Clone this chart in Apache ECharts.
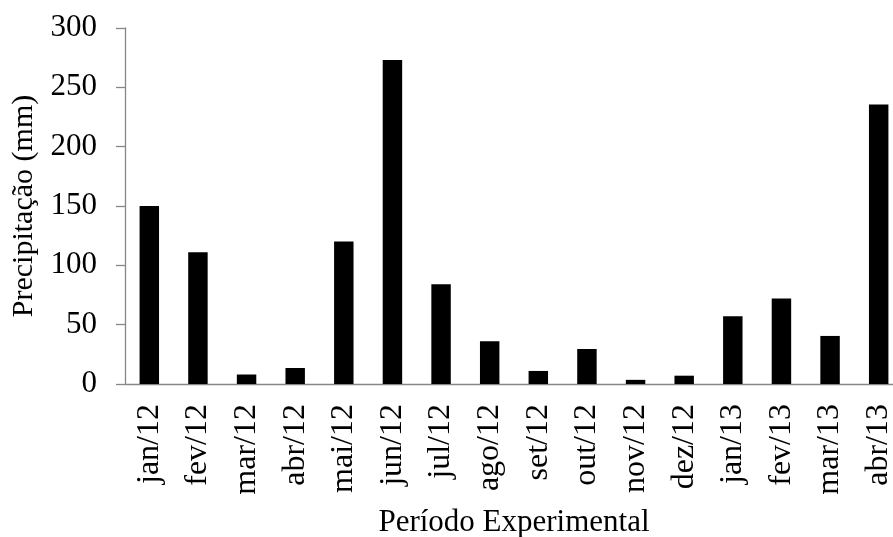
<!DOCTYPE html>
<html>
<head>
<meta charset="utf-8">
<script src="https://cdn.jsdelivr.net/npm/echarts@6/dist/echarts.min.js"></script>
<style>
  html, body { margin: 0; padding: 0; background: #fff; }
  #chart { width: 893px; height: 537px; }
</style>
</head>
<body>
<div id="chart"></div>
<script>
// meses do período experimental
const months = ['jan/12', 'fev/12', 'mar/12', 'abr/12', 'mai/12', 'jun/12', 'jul/12', 'ago/12',
    'set/12', 'out/12', 'nov/12', 'dez/12', 'jan/13', 'fev/13', 'mar/13', 'abr/13'];
// precipitação mensal (mm)
const rainfall = [150, 111, 8, 13.5, 120, 273, 84, 36, 11, 29.5, 3.5, 7, 57, 72, 40.5, 235.5];
const yTicks = [0, 50, 100, 150, 200, 250, 300];

const font = 'Liberation Serif, Times New Roman, serif';
const axisGray = '#878787';

const chart = echarts.init(document.getElementById('chart'));
chart.setOption({
    animation: false,
    grid: {
        left: 125, top: 28, width: 778, height: 356,
        containLabel: false, outerBoundsMode: 'none'
    },
    xAxis: {
        type: 'category',
        data: months,
        name: 'Período Experimental',
        nameLocation: 'middle',
        nameGap: 123,
        nameTextStyle: {fontFamily: font, fontSize: 31, color: '#000'},
        axisLine: {lineStyle: {color: axisGray, width: 1.3}},
        axisTick: {length: 9, lineStyle: {color: axisGray, width: 1.3}},
        axisLabel: {rotate: 90, margin: 20, fontFamily: font, fontSize: 32, color: '#000', interval: 0}
    },
    yAxis: {
        type: 'value',
        min: yTicks[0],
        max: yTicks[yTicks.length - 1],
        interval: 50,
        name: 'Precipitação (mm)',
        nameLocation: 'middle',
        nameGap: 86,
        nameTextStyle: {fontFamily: font, fontSize: 30, color: '#000'},
        axisLine: {show: true, lineStyle: {color: axisGray, width: 1.3}},
        axisTick: {show: true, length: 9, lineStyle: {color: axisGray, width: 1.3}},
        splitLine: {show: false},
        axisLabel: {margin: 28, fontFamily: font, fontSize: 31, color: '#000'}
    },
    series: [{
        type: 'bar',
        data: rainfall,
        barCategoryGap: '60%',
        itemStyle: {color: '#000'}
    }]
});
</script>
</body>
</html>
